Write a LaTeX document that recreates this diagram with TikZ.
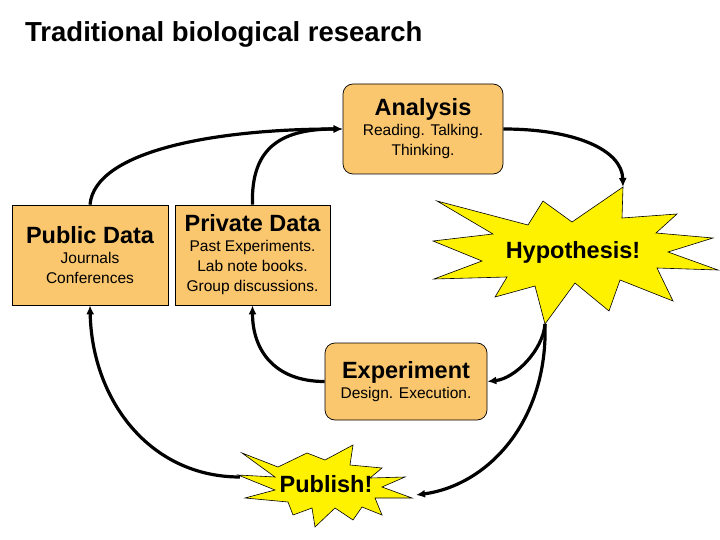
\documentclass[tikz,border=0pt]{standalone}
\usepackage{fontspec}
\setmainfont{Liberation Sans}
\usetikzlibrary{arrows.meta}
\definecolor{boxorange}{RGB}{250,198,110}
\newcommand{\heading}[1]{{\fontsize{23.5}{20}\selectfont\bfseries #1}}

\begin{document}
\begin{tikzpicture}[x=1pt,y=-1pt,
  every node/.style={inner sep=0pt, font=\fontsize{15.5}{20}\selectfont},
  databox/.style={draw=black, line width=0.7pt, fill=boxorange, align=center},
  roundbox/.style={databox, rounded corners=10pt},
  burst/.style={draw=black, line width=0.6pt, fill=yellow},
  flow/.style={line width=3.2pt, -{Latex[length=9pt,width=8pt]}}]
\useasboundingbox (0,0) rectangle (720,540);

\node[anchor=base west, font=\fontsize{27.5}{30}\selectfont\bfseries] (title) at (25,42) {Traditional biological research};

% boxes
\node[roundbox, minimum width=160pt, minimum height=90pt] (analysis) at (423,129) {\heading{Analysis}\\Reading. Talking.\\Thinking.};
\node[databox, minimum width=156pt, minimum height=100pt] (pubdata) at (90,255) {\heading{Public Data}\\Journals\\Conferences};
\node[databox, minimum width=155pt, minimum height=100pt] (privdata) at (252.5,255) {\heading{Private Data}\\Past Experiments.\\Lab note books.\\Group discussions.};
\node[roundbox, minimum width=162pt, minimum height=77pt] (experiment) at (406,381.5) {\heading{Experiment}\\Design. Execution.};

% bursts
\filldraw[burst] (437,201) -- (528,225) -- (543,201) -- (572,222) -- (623,187) -- (622,218)
  -- (677,214) -- (656,233) -- (713,238) -- (668,252) -- (718,270) -- (657,268)
  -- (673,301) -- (620,280) -- (609,311) -- (575,283) -- (545,324) -- (535,286)
  -- (495,297) -- (507,277) -- (434,279) -- (482,261) -- (433,241) -- (493,234) -- cycle;
\node (hypothesis) at (573,252) {\heading{Hypothesis!}};
\coordinate (hyptop) at (623,187);
\coordinate (hypbot) at (545,324);

\filldraw[burst] (242,453) -- (278,467) -- (307,453) -- (325,460) -- (353,445) -- (350,465)
  -- (382,468) -- (370,478) -- (405,477) -- (382,487) -- (412,498) -- (375,498)
  -- (382,515) -- (362,507) -- (353,520) -- (335,508) -- (315,527) -- (312,508)
  -- (293,515) -- (288,502) -- (245,498) -- (275,490) -- (238,475) -- (275,477) -- cycle;
\node (publish) at (326,484) {\heading{Publish!}};
\coordinate (pubright) at (416,495);
\coordinate (publeft) at (240,477);

% arrows
\draw[flow] (pubdata.north) .. controls +(5,-55) and +(-123,0) .. (analysis.west);
\draw[flow] (privdata.north) .. controls +(-2,-60) and +(-58,0) .. (analysis.west);
\draw[flow] (analysis.east) .. controls +(72,0) and +(-1,-37) .. (hyptop);
\draw[flow] (hypbot) .. controls +(-2,26) and +(28,-3) .. (experiment.east);
\draw[flow] (hypbot) .. controls +(3,96) and +(73,-10) .. (pubright);
\draw[flow] (experiment.west) .. controls +(-50,0) and +(0,45) .. (privdata.south);
\draw[flow] (publeft) .. controls +(-90,0) and +(2,95) .. (pubdata.south);
\end{tikzpicture}
\end{document}
